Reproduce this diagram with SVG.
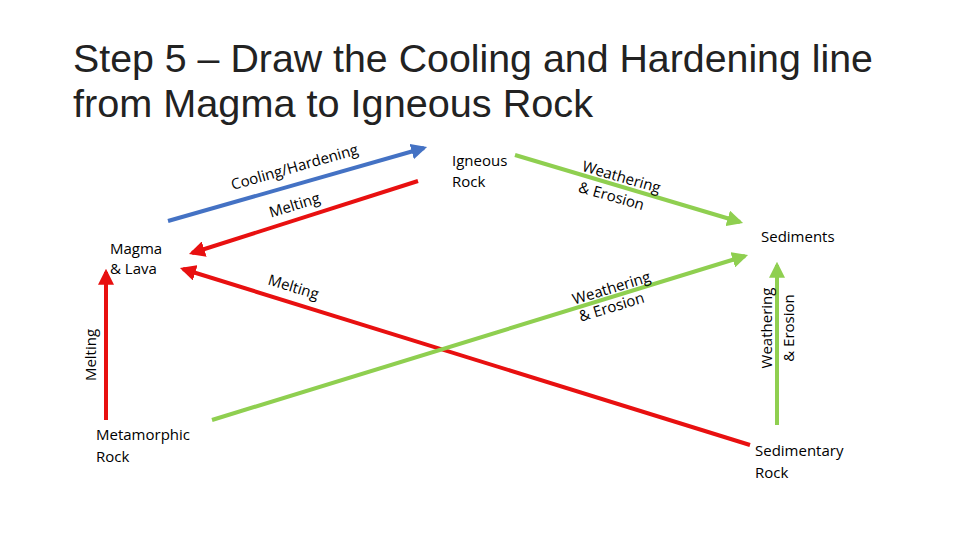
<svg xmlns="http://www.w3.org/2000/svg" width="960" height="540" viewBox="0 0 960 540">
<style>
text{font-family:"Open Sans","Liberation Sans",sans-serif;fill:#000}
.t{font-size:39px;font-family:"Liberation Sans",sans-serif;fill:#222}
.n{font-size:15px}
.l{font-size:15px}
.r{stroke:#e81010;stroke-width:4;fill:none}
.b{stroke:#4472c4;stroke-width:4;fill:none}
.g{stroke:#8fcf50;stroke-width:4;fill:none}
</style>
<defs>
<marker id="mr" viewBox="0 0 10 10" refX="8" refY="5" markerWidth="4" markerHeight="4" orient="auto"><path d="M0,0L10,5L0,10z" fill="#e81010"/></marker>
<marker id="mb" viewBox="0 0 10 10" refX="8" refY="5" markerWidth="4" markerHeight="4" orient="auto"><path d="M0,0L10,5L0,10z" fill="#4472c4"/></marker>
<marker id="mg" viewBox="0 0 10 10" refX="8" refY="5" markerWidth="4" markerHeight="4" orient="auto"><path d="M0,0L10,5L0,10z" fill="#8fcf50"/></marker>
</defs>
<rect width="960" height="540" fill="#fff"/>
<g id="title">
<text class="t" x="73" y="72" textLength="800" lengthAdjust="spacingAndGlyphs">Step 5 – Draw the Cooling and Hardening line</text>
<text class="t" x="73" y="117" textLength="520" lengthAdjust="spacingAndGlyphs">from Magma to Igneous Rock</text>
</g>
<g id="connectors">
<line class="b" x1="168" y1="221" x2="424" y2="148" marker-end="url(#mb)"/>
<line class="r" x1="418" y1="181" x2="192" y2="253" marker-end="url(#mr)"/>
<line class="r" x1="750" y1="445" x2="183" y2="269" marker-end="url(#mr)"/>
<line class="g" x1="515" y1="155" x2="740" y2="222" marker-end="url(#mg)"/>
<line class="g" x1="212" y1="420" x2="745" y2="256" marker-end="url(#mg)"/>
<line class="g" x1="777" y1="425" x2="777" y2="265" marker-end="url(#mg)"/>
<line class="r" x1="106" y1="420" x2="106" y2="272" marker-end="url(#mr)"/>
<text class="l" transform="translate(296,172) rotate(-16)" text-anchor="middle">Cooling/Hardening</text>
<text class="l" transform="translate(296,210) rotate(-17)" text-anchor="middle">Melting</text>
<text class="l" transform="translate(292,292) rotate(17)" text-anchor="middle">Melting</text>
<text class="l" transform="translate(620,182) rotate(16)" text-anchor="middle">Weathering</text>
<text class="l" transform="translate(610,201) rotate(16)" text-anchor="middle">&amp; Erosion</text>
<text class="l" transform="translate(613,293) rotate(-17)" text-anchor="middle">Weathering</text>
<text class="l" transform="translate(613,312) rotate(-17)" text-anchor="middle">&amp; Erosion</text>
<text class="l" transform="translate(772,328) rotate(-90)" text-anchor="middle">Weathering</text>
<text class="l" transform="translate(794,328) rotate(-90)" text-anchor="middle">&amp; Erosion</text>
<text class="l" transform="translate(96,355) rotate(-90)" text-anchor="middle">Melting</text>
</g>
<g id="igneous"><text class="n" x="452" y="166">Igneous</text><text class="n" x="452" y="187">Rock</text></g>
<g id="magma"><text class="n" x="110" y="254">Magma</text><text class="n" x="110" y="274">&amp; Lava</text></g>
<g id="metamorphic"><text class="n" x="96" y="440">Metamorphic</text><text class="n" x="96" y="462">Rock</text></g>
<g id="sediments"><text class="n" x="761" y="242">Sediments</text></g>
<g id="sedimentary"><text class="n" x="755" y="456">Sedimentary</text><text class="n" x="755" y="478">Rock</text></g>
</svg>
